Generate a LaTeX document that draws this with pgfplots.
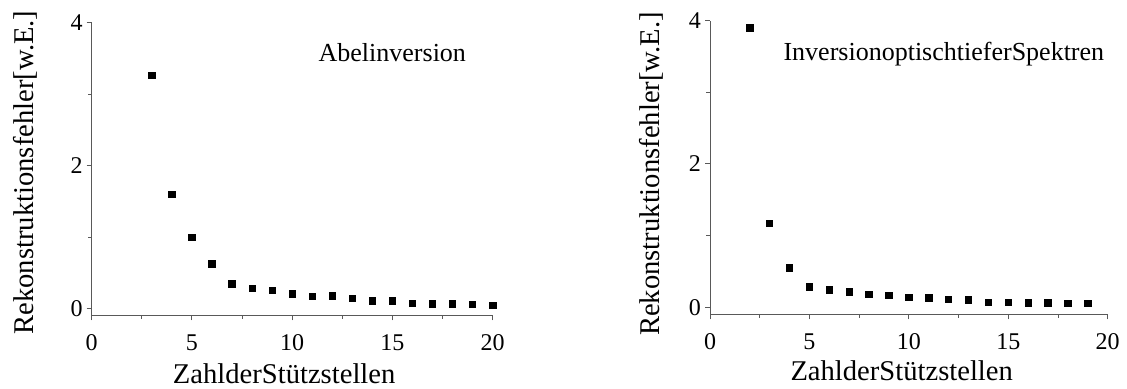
\documentclass[border=0pt]{standalone}
\usepackage{fontspec}
\setmainfont{Liberation Serif}
\usepackage{pgfplots}
\pgfplotsset{compat=1.18}
\pgfplotsset{myax/.style={
  scale only axis,
  xmin=0, xmax=20, ymax=4,
  axis x line=bottom, axis y line=left,
  axis line style={-, black!65, line width=0.5pt},
  xtick={0,5,10,15,20}, ytick={0,2,4},
  minor x tick num=1, minor y tick num=1,
  tick align=outside, major tick length=2.5pt, minor tick length=1.8pt,
  every tick/.style={black!65, line width=0.5pt},
  every minor tick/.style={black!65, line width=0.5pt},
  tick label style={font=\fontsize{12}{14}\selectfont},
  xticklabel style={yshift=-3.5pt},
  yticklabel style={xshift=1.5pt},
  /pgf/number format/assume math mode=true,
  label style={font=\fontsize{14.3}{16}\selectfont},
  clip=false,
}}
\begin{document}
\begin{tikzpicture}
\path[use as bounding box] (-45.85pt,-36.85pt) rectangle (517.65pt,157.65pt);
\begin{axis}[myax, at={(0pt,0pt)}, anchor=south west,
  width=200.5pt, height=146.3pt, ymin=-0.09,
  xlabel={ZahlderStützstellen}, ylabel={Rekonstruktionsfehler[w.E.]},
  xlabel style={at={(axis description cs:0.48,-0.232)}, anchor=base},
  ylabel style={at={(axis description cs:-0.146,0.488)}, anchor=base},
]
\addplot[only marks, mark=square*, mark size=1.6pt, black] coordinates {
(3,3.26) (4,1.60) (5,1.00) (6,0.63) (7,0.35) (8,0.29) (9,0.26) (10,0.21)
(11,0.17) (12,0.18) (13,0.15) (14,0.11) (15,0.11) (16,0.08) (17,0.07)
(18,0.07) (19,0.06) (20,0.05)};
\node[anchor=base west, inner sep=0pt, font=\fontsize{13}{15}\selectfont] at (axis cs:11.3,3.46) {Abelinversion};
\end{axis}
\begin{axis}[myax, at={(309.15pt,0.5pt)}, anchor=south west,
  width=198.85pt, height=146.8pt, ymin=-0.10,
  xlabel={ZahlderStützstellen}, ylabel={Rekonstruktionsfehler[w.E.]},
  xlabel style={at={(axis description cs:0.482,-0.227)}, anchor=base},
  ylabel style={at={(axis description cs:-0.1275,0.478)}, anchor=base},
]
\addplot[only marks, mark=square*, mark size=1.6pt, black] coordinates {
(2,3.90) (3,1.17) (4,0.55) (5,0.28) (6,0.24) (7,0.21) (8,0.18) (9,0.16)
(10,0.14) (11,0.13) (12,0.11) (13,0.10) (14,0.07) (15,0.07) (16,0.06)
(17,0.06) (18,0.05) (19,0.05)};
\node[anchor=base west, inner sep=0pt, font=\fontsize{13}{15}\selectfont] at (axis cs:3.68,3.44) {InversionoptischtieferSpektren};
\end{axis}
\end{tikzpicture}
\end{document}
